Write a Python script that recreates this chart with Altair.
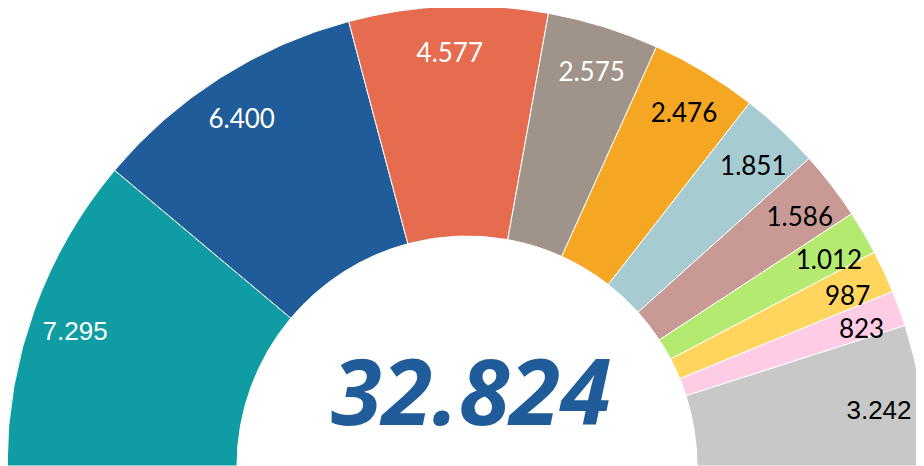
import math
import altair as alt
import pandas as pd

categories = ["s01", "s02", "s03", "s04", "s05", "s06", "s07", "s08", "s09", "s10", "s11"]
values = [7295, 6400, 4577, 2575, 2476, 1851, 1586, 1012, 987, 823, 3242]
colors = ["#0f9da3", "#1f5c99", "#e66c4f", "#a0938a", "#f5a623", "#a6cbd1",
          "#c99a95", "#b3ea6f", "#ffd55e", "#ffcce6", "#c8c8c8"]
total_label = "32.824"

df = pd.DataFrame({
    "cat": categories,
    "value": values,
    "idx": list(range(len(values))),
    "label": [f"{v:,}".replace(",", ".") for v in values],
})

TOTAL = sum(values)
CX, CY = 459, 458
tscale = alt.Scale(domain=[0, TOTAL], range=[-math.pi / 2, math.pi / 2], nice=False, zero=True)

base = alt.Chart(df).transform_window(
    v1="sum(value)", sort=[alt.SortField("idx")], frame=[None, 0]
).transform_calculate(
    v0="datum.v1 - datum.value", vmid="datum.v1 - datum.value / 2"
).encode(x=alt.value(CX), y=alt.value(CY))

arcs = base.mark_arc(innerRadius=230, outerRadius=460, stroke="white",
                     strokeWidth=1).encode(
    theta=alt.Theta("v0:Q", scale=tscale),
    theta2="v1:Q",
    color=alt.Color("cat:N", scale=alt.Scale(domain=categories, range=colors),
                    legend=None),
)

label_color = alt.condition(alt.datum.idx < 4, alt.value("white"), alt.value("black"))

labels_lato = base.mark_text(radius=420, dy=8, font="Lato", fontSize=26).encode(
    theta=alt.Theta("vmid:Q", scale=tscale),
    text="label:N", color=label_color,
).transform_filter("datum.idx > 0 && datum.idx < 10")

labels_sans = base.mark_text(radius=417, dy=9, font="Liberation Sans", fontSize=26).encode(
    theta=alt.Theta("vmid:Q", scale=tscale),
    text="label:N", color=label_color,
).transform_filter("datum.idx == 0 || datum.idx == 10")

center = alt.Chart(pd.DataFrame({"t": [total_label]})).mark_text(
    font="Noto Sans", fontSize=92, fontWeight="bold", fontStyle="italic",
    color="#1f5c99", baseline="alphabetic", align="center"
).encode(text="t:N", x=alt.value(CX + 4), y=alt.value(417))

chart = alt.layer(arcs, labels_lato, labels_sans, center).properties(
    width=908, height=458, padding=0, autosize="none"
).configure_view(stroke=None)

chart.save("out.html", embed_options={"renderer": "svg", "actions": False})
